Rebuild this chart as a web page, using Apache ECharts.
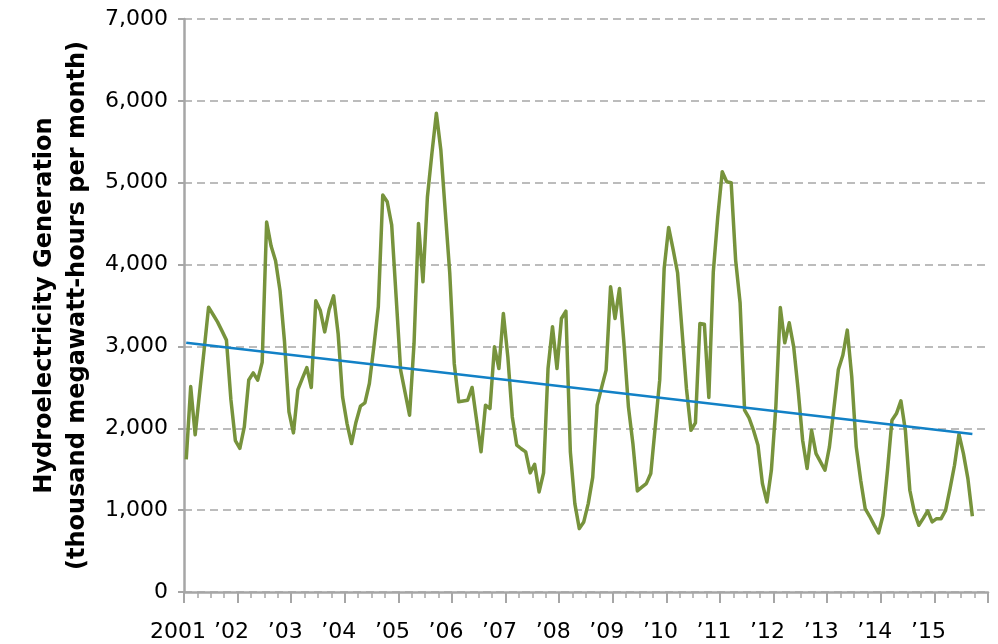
<!DOCTYPE html>
<html>
<head>
<meta charset="utf-8">
<script src="https://cdn.jsdelivr.net/npm/echarts@6/dist/echarts.min.js"></script>
<style>
html,body{margin:0;padding:0;background:#fff;}
#chart{width:998px;height:644px;}
</style>
</head>
<body>
<div id="chart"></div>
<script>
// Monthly hydroelectricity generation, Jan 2001 – Sep 2015 (thousand MWh)
const firstYear = 2001;
const generation = [
  1620, 2510, 1920, 2440, 2955, 3480, 3390, 3300, 3190, 3077, 2350, 1850,
  1755, 2017, 2590, 2677, 2588, 2805, 4520, 4226, 4046, 3680, 3060, 2200,
  1944, 2473, 2610, 2742, 2498, 3557, 3443, 3178, 3451, 3618, 3158, 2384,
  2058, 1813, 2074, 2270, 2310, 2547, 2995, 3484, 4849, 4768, 4482, 3600,
  2710, 2435, 2160, 3036, 4503, 3790, 4829, 5359, 5848, 5400, 4645, 3892,
  2792, 2323, 2333, 2343, 2499, 2100, 1712, 2282, 2241, 2995, 2730, 3403,
  2873, 2139, 1793, 1750, 1711, 1455, 1561, 1222, 1455, 2730, 3240, 2730,
  3341, 3431, 1711, 1080, 774, 856, 1080, 1400, 2282, 2500, 2710, 3728,
  3341, 3708, 3036, 2262, 1813, 1235, 1280, 1324, 1447, 2017, 2588, 3953,
  4454, 4185, 3900, 3190, 2480, 1976, 2066, 3280, 3272, 2376, 3912, 4584,
  5134, 5012, 5000, 4055, 3530, 2221, 2127, 1976, 1793, 1324, 1100, 1487,
  2262, 3476, 3044, 3289, 2995, 2465, 1854, 1508, 1976, 1691, 1590, 1487,
  1773, 2241, 2718, 2893, 3199, 2628, 1773, 1365, 1019, 925, 820, 721,
  937, 1487, 2099, 2180, 2335, 1976, 1243, 978, 815, 900, 990, 856,
  896, 896, 998, 1263, 1548, 1927, 1691, 1385, 925
];
// Linear trend, value at first and last month
const trendEnds = [3045, 1930];
const yearLabels = ['2001', '\u201902', '\u201903', '\u201904', '\u201905', '\u201906', '\u201907', '\u201908',
  '\u201909', '\u201910', '\u201911', '\u201912', '\u201913', '\u201914', '\u201915'];

// month index -> x (months since Jan 2001, plotted mid-month)
const genData = generation.map((v, i) => [i + 0.5, v]);
const trendData = [[0.5, trendEnds[0]], [generation.length - 0.5, trendEnds[1]]];

const font = 'DejaVu Sans';
const chart = echarts.init(document.getElementById('chart'), null, {renderer: 'canvas'});
chart.setOption({
  animation: false,
  backgroundColor: '#ffffff',
  grid: {left: 184, right: 10, top: 19, bottom: 52, containLabel: false},
  xAxis: {
    type: 'value',
    min: 0, max: 180, interval: 12,
    axisLine: {show: true, lineStyle: {color: '#a6a6a6', width: 2.5}},
    axisTick: {show: true, length: 11, lineStyle: {color: '#a6a6a6', width: 2}},
    minorTick: {show: true, splitNumber: 4, length: 6, lineStyle: {color: '#a6a6a6', width: 1.5}},
    splitLine: {show: false},
    axisLabel: {
      color: '#000', fontFamily: font, fontSize: 22, margin: 29,
      padding: [0, 12, 0, 0],
      formatter: v => yearLabels[Math.round(v / 12)] || ''
    }
  },
  yAxis: {
    type: 'value',
    min: 0, max: 7000, interval: 1000,
    name: 'Hydroelectricity Generation\n(thousand megawatt-hours per month)',
    nameLocation: 'middle',
    nameGap: 88,
    nameTextStyle: {color: '#000', fontFamily: font, fontSize: 24, fontWeight: 'bold', lineHeight: 33},
    axisLine: {show: true, lineStyle: {color: '#a6a6a6', width: 2.5}},
    axisTick: {show: true, length: 6, lineStyle: {color: '#a6a6a6', width: 2}},
    splitLine: {show: true, lineStyle: {color: '#a6a6a6', width: 1.6, type: [8, 5]}},
    axisLabel: {
      color: '#000', fontFamily: font, fontSize: 22, margin: 16,
      formatter: v => v.toLocaleString('en-US')
    }
  },
  series: [
    {
      type: 'line', data: genData, showSymbol: false,
      lineStyle: {color: '#77933c', width: 3.5, join: 'round'},
      z: 2
    },
    {
      type: 'line', data: trendData, showSymbol: false,
      lineStyle: {color: '#1281c6', width: 2.5},
      z: 3
    }
  ]
});
</script>
</body>
</html>
